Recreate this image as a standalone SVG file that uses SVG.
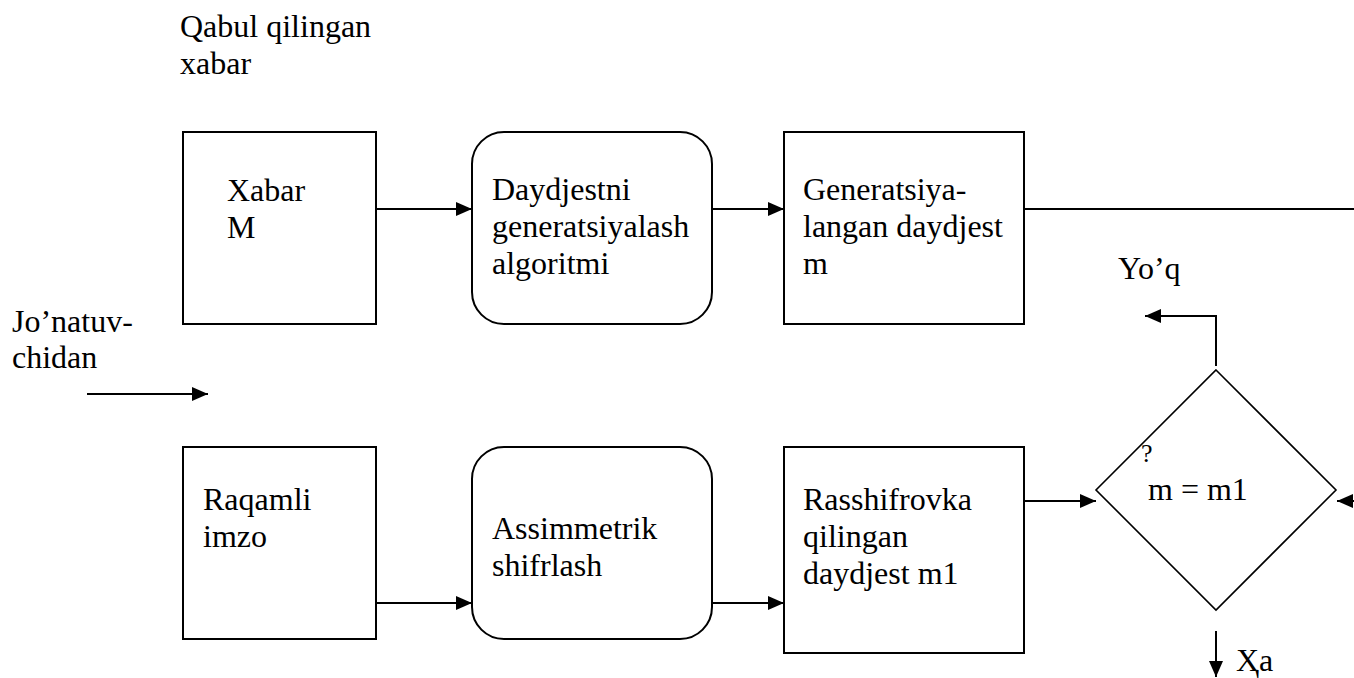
<svg xmlns="http://www.w3.org/2000/svg" width="1354" height="678" viewBox="0 0 1354 678">
<style>
text{font-family:"Liberation Serif","Times New Roman",serif;font-size:32px;fill:#000}
.box{fill:#fff;stroke:#000;stroke-width:2}
.dia{fill:#fff;stroke:#000;stroke-width:1.6}
.ln{fill:none;stroke:#000;stroke-width:2}
</style>
<defs>
<marker id="ah" markerUnits="userSpaceOnUse" markerWidth="16" markerHeight="14" refX="16" refY="7" orient="auto">
<path d="M0,0 L16,7 L0,14 z" fill="#000"/>
</marker>
</defs>
<rect width="1354" height="678" fill="#fff"/>
<g id="label-qabul">
<text x="180" y="37">Qabul qilingan</text>
<text x="180" y="74">xabar</text>
</g>
<g id="label-jonatuv">
<text x="12" y="332">Jo’natuv-</text>
<text x="12" y="368">chidan</text>
</g>
<g id="n-xabar">
<rect class="box" x="183" y="132" width="193" height="192"/>
<text x="227" y="201">Xabar</text>
<text x="227" y="238">M</text>
</g>
<g id="n-algoritm">
<rect class="box" x="472" y="132" width="240" height="192" rx="32" ry="32"/>
<text x="492" y="200">Daydjestni</text>
<text x="492" y="237">generatsiyalash</text>
<text x="492" y="274">algoritmi</text>
</g>
<g id="n-generatsiya">
<rect class="box" x="784" y="132" width="240" height="192"/>
<text x="803" y="200">Generatsiya-</text>
<text x="803" y="237">langan daydjest</text>
<text x="803" y="274">m</text>
</g>
<g id="n-raqamli">
<rect class="box" x="183" y="447" width="193" height="192"/>
<text x="203" y="510">Raqamli</text>
<text x="203" y="547">imzo</text>
</g>
<g id="n-assimmetrik">
<rect class="box" x="472" y="447" width="240" height="192" rx="32" ry="32"/>
<text x="492" y="539">Assimmetrik</text>
<text x="492" y="576">shifrlash</text>
</g>
<g id="n-rasshifrovka">
<rect class="box" x="784" y="447" width="240" height="206"/>
<text x="803" y="510">Rasshifrovka</text>
<text x="803" y="547">qilingan</text>
<text x="803" y="584">daydjest m1</text>
</g>
<g id="n-compare">
<polygon class="dia" points="1216,370 1336,490 1216,610 1096,490"/>
<text x="1141" y="462" style="font-size:26px">?</text>
<text x="1148" y="500">m = m1</text>
</g>
<g id="labels-out">
<text x="1118" y="279">Yo’q</text>
<text x="1236" y="671">Ҳa</text>
</g>
<g id="connectors">
<line class="ln" x1="376" y1="209" x2="472" y2="209" marker-end="url(#ah)"/>
<line class="ln" x1="712" y1="209" x2="784" y2="209" marker-end="url(#ah)"/>
<line class="ln" x1="1024" y1="209" x2="1354" y2="209"/>
<line class="ln" x1="87" y1="394" x2="208" y2="394" marker-end="url(#ah)"/>
<line class="ln" x1="376" y1="603" x2="472" y2="603" marker-end="url(#ah)"/>
<line class="ln" x1="712" y1="603" x2="784" y2="603" marker-end="url(#ah)"/>
<line class="ln" x1="1024" y1="501" x2="1096" y2="501" marker-end="url(#ah)"/>
<line class="ln" x1="1356" y1="501" x2="1337" y2="501" marker-end="url(#ah)"/>
<polyline class="ln" points="1216,366 1216,316 1145,316" marker-end="url(#ah)"/>
<line class="ln" x1="1216" y1="631" x2="1216" y2="677" marker-end="url(#ah)"/>
</g>
</svg>
